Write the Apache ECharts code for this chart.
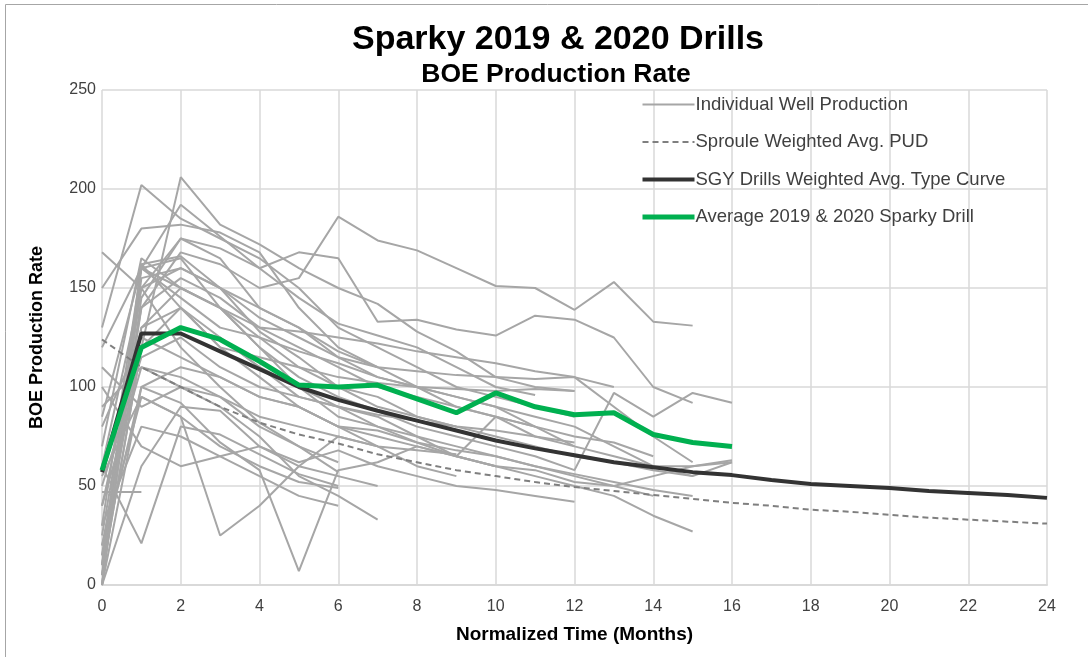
<!DOCTYPE html>
<html>
<head>
<meta charset="utf-8">
<script src="https://cdn.jsdelivr.net/npm/echarts@6/dist/echarts.min.js"></script>
<style>
html,body{margin:0;padding:0;background:#fff;}
#chart{width:1088px;height:657px;}
</style>
</head>
<body>
<div id="chart"></div>
<script>
// ---- data (BOE production rate by normalized month, index = month) ----
const xTicks = [0,2,4,6,8,10,12,14,16,18,20,22,24];
const yTicks = [0,50,100,150,200,250];

const sgyTypeCurve = [57,127,127,118,109,100,93.5,88,83,78,73,69,65.5,62,59.5,57,55.5,53,51,50,49,47.5,46.5,45.5,44];
const sprouleAvgPUD = [124,110,100,90,82,76,71.5,66,62,58,55,52,49.5,47.5,45.5,43.5,41.5,40,38,37,35.5,34,33,32,31];
const sparkyAverage = [58,120,130,124,113,101,100,101,94,87,97,90,86,87,76,72,70];

const well01 = [25,140,168,162,150,155,186,174,169,160,151,150,139,153,133,131];
const well02 = [60,150,175,170,160,168,165,133,134,129,126,136,134,125,100,92];
const well03 = [130,202,185,175,165,150,130,120,110,100,95,90,85];
const well04 = [20,120,206,182,172,160,150,142,128,118,105,100,98];
const well05 = [168,150,120,100,82,70,62];
const well06 = [150,180,182,178,168,140,120,110];
const well07 = [10,162,166,150,140,130,115,105,100,90,85,80,70,65,60,60,63];
const well08 = [5,160,192,176,160,145,132,126,120,110,100,96];
const well09 = [0,155,160,150,128,115,100,95,85,80,75,70,65,62,58,55,62];
const well10 = [47,47];
const well11 = [15,100,92,72,58,7,58,62,70,65,60];
const well12 = [20,95,85,25,40,60,75,70,60,55];
const well13 = [60,21,80,76,66,56,50];
const well14 = [0,145,175,165,140,130,118,110,100,95,90,85,80,70,60,55];
const well15 = [10,130,150,140,120,105,95,88,80,75,70,65,58,97,85,97,92];
const well16 = [5,120,140,125,110,95,90,80,72,65,60,55,50,45,35,27];
const well17 = [15,150,160,150,135,125,115,110,108,106,105,104,105,90,75,62];
const well18 = [40,110,100,90,75,55,45,33];
const well19 = [80,125,115,105,95,90,80,70];
const well20 = [55,95,85,70,60,52,49];
const well21 = [30,80,75,65,55,45,40];
const well22 = [90,110,105,95,80,70,57];
const well23 = [40,130,140,120,115,110,105,102,100,99,98,99,98];
const well24 = [70,165,150,140,130,120,110,100,95,90,85,80];
const well25 = [0,100,110,105,95,90,80,75,70,65,85,75,70];
const well26 = [5,120,130,125,110,100,90,85,75,70,65,60,55,50,45];
const well27 = [100,70,60,65,70,60,55,50];
const well28 = [120,160,150,140,125,110,100,90,85,80];
const well29 = [110,90,100,95,85,80,75,70,68,66];
const well30 = [30,160,165,140,120,100,85,80,75,65,60,58,52,50,55,60,62];
const well31 = [0,60,90,88,70,62,68,60,55,50,48,45,42];
const well32 = [85,160,145,130,125,118,112,105,100,95,90,80,75,72,65];
const well33 = [0,162,140,120,105,90,80,78,72,68,65,60,56,52,48,45];
const well34 = [50,115,125,110,100,95,90,86,83,80,78,75,72];
const well35 = [10,140,155,145,130,128,125,122,118,115,112,108,105,100];

const wells = [well01,well02,well03,well04,well05,well06,well07,well08,well09,well10,
  well11,well12,well13,well14,well15,well16,well17,well18,well19,well20,
  well21,well22,well23,well24,well25,well26,well27,well28,well29,well30,
  well31,well32,well33,well34,well35];

const NAME_WELL = 'Individual Well Production';
const NAME_PUD = 'Sproule Weighted Avg. PUD';
const NAME_SGY = 'SGY Drills Weighted Avg. Type Curve';
const NAME_AVG = 'Average 2019 & 2020 Sparky Drill';

const toPairs = arr => arr.map((v, i) => [i, v]);

const series = [];
wells.forEach(w => {
  series.push({
    name: NAME_WELL, type: 'line', data: toPairs(w), symbol: 'none',
    lineStyle: {color: '#a6a6a6', width: 2}, itemStyle: {color: '#a6a6a6'},
    z: 2, silent: true
  });
});
series.push({
  name: NAME_PUD, type: 'line', data: toPairs(sprouleAvgPUD), symbol: 'none',
  lineStyle: {color: '#7f7f7f', width: 2, type: [6, 4]}, itemStyle: {color: '#7f7f7f'}, z: 3
});
series.push({
  name: NAME_SGY, type: 'line', data: toPairs(sgyTypeCurve), symbol: 'none',
  lineStyle: {color: '#333333', width: 4}, itemStyle: {color: '#333333'}, z: 4
});
series.push({
  name: NAME_AVG, type: 'line', data: toPairs(sparkyAverage), symbol: 'none',
  lineStyle: {color: '#00b050', width: 5}, itemStyle: {color: '#00b050'}, z: 5
});

const chart = echarts.init(document.getElementById('chart'), null, {renderer: 'canvas'});
const font = 'Liberation Sans, Arial, sans-serif';
chart.setOption({
  backgroundColor: '#ffffff',
  animation: false,
  textStyle: {fontFamily: font},
  legend: {
    data: [
      {name: NAME_WELL, lineStyle: {width: 2}},
      {name: NAME_PUD, lineStyle: {width: 2}},
      {name: NAME_SGY, lineStyle: {width: 4}},
      {name: NAME_AVG, lineStyle: {width: 5}}
    ],
    orient: 'vertical', left: 640, top: 95, padding: 0,
    itemWidth: 52, itemHeight: 14, itemGap: 18.5,
    itemStyle: {opacity: 0},
    textStyle: {fontFamily: font, fontSize: 18.5, color: '#404040', padding: [0, 0, 0, -4]},
    selectedMode: false
  },
  grid: {left: 102, right: 41, top: 90, bottom: 72, containLabel: false},
  xAxis: {
    type: 'value', min: 0, max: 24, interval: 2,
    name: 'Normalized Time (Months)', nameLocation: 'middle', nameGap: 40,
    nameTextStyle: {fontFamily: font, fontSize: 19, fontWeight: 'bold', color: '#000'},
    axisLine: {show: true, lineStyle: {color: '#d9d9d9', width: 2}},
    axisTick: {show: false},
    axisLabel: {fontFamily: font, fontSize: 16, color: '#404040', margin: 14,
      formatter: v => xTicks.includes(v) ? String(v) : ''},
    splitLine: {show: true, lineStyle: {color: '#d9d9d9', width: 1.5}}
  },
  yAxis: {
    type: 'value', min: 0, max: 250, interval: 50,
    name: 'BOE Production Rate', nameLocation: 'middle', nameGap: 56,
    nameTextStyle: {fontFamily: font, fontSize: 18, fontWeight: 'bold', color: '#000'},
    axisLine: {show: false},
    axisTick: {show: false},
    axisLabel: {fontFamily: font, fontSize: 16, color: '#404040', margin: 6,
      formatter: v => yTicks.includes(v) ? String(v) : ''},
    splitLine: {show: true, lineStyle: {color: '#d9d9d9', width: 1.5}}
  },
  graphic: [
    {type: 'rect', shape: {x: 5.5, y: 4.5, width: 1200, height: 800}, z: -10,
     style: {fill: 'none', stroke: '#a6a6a6', lineWidth: 1}, silent: true},
    {type: 'text', x: 558, y: 40, z: 10, silent: true,
     style: {text: 'Sparky 2019 & 2020 Drills', fill: '#000', align: 'center', verticalAlign: 'middle',
       font: 'bold 34px Liberation Sans, Arial, sans-serif'}},
    {type: 'text', x: 556, y: 75, z: 10, silent: true,
     style: {text: 'BOE Production Rate', fill: '#000', align: 'center', verticalAlign: 'middle',
       font: 'bold 26.5px Liberation Sans, Arial, sans-serif'}}
  ],
  series: series
});
</script>
</body>
</html>
